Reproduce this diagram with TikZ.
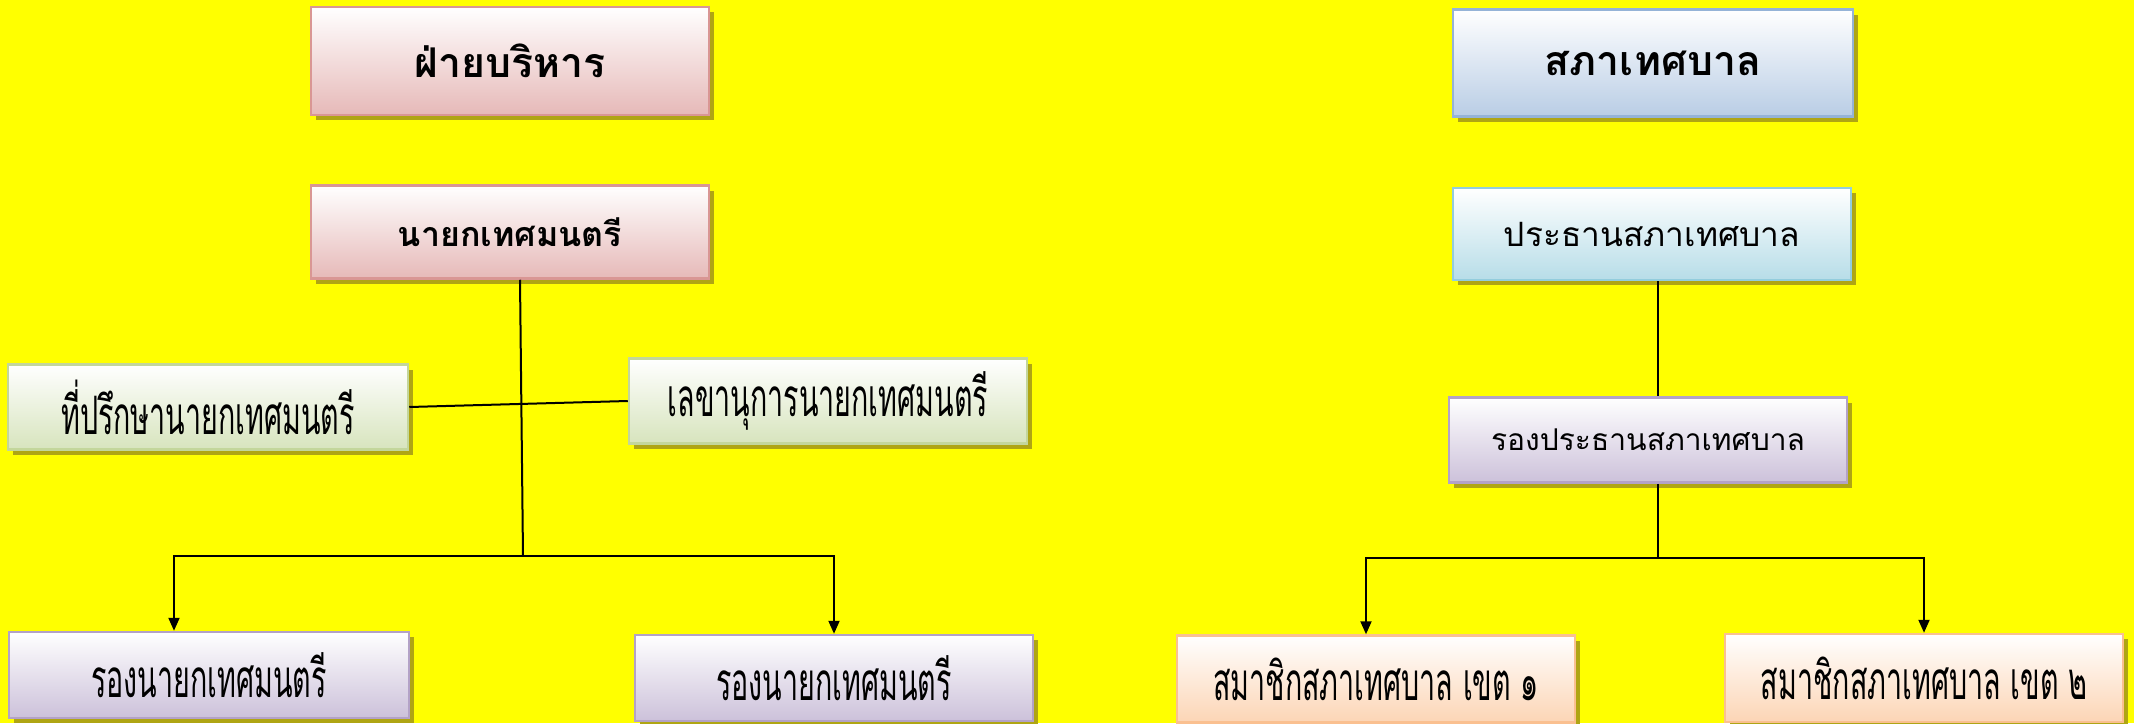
\documentclass[tikz,border=0pt]{standalone}
\usepackage{fontspec}
\usetikzlibrary{arrows.meta,shadows}
\newfontfamily\thai[Script=Thai]{Loma}
\newfontfamily\thaic[Script=Thai,FakeStretch=0.54]{Loma}
\definecolor{bgyellow}{RGB}{255,255,0}
\definecolor{shadowc}{RGB}{175,165,20}
\definecolor{pinkB}{RGB}{230,185,184}\definecolor{pinkD}{RGB}{217,150,148}
\definecolor{greenB}{RGB}{215,228,189}\definecolor{greenD}{RGB}{195,214,155}
\definecolor{lavB}{RGB}{204,193,218}\definecolor{lavD}{RGB}{179,162,199}
\definecolor{blueB}{RGB}{185,205,229}\definecolor{blueD}{RGB}{149,179,215}
\definecolor{cyanB}{RGB}{183,221,232}\definecolor{cyanD}{RGB}{147,205,221}
\definecolor{peachB}{RGB}{252,213,181}\definecolor{peachD}{RGB}{250,192,144}
\tikzset{
  box/.style={rectangle, line width=2.5pt, inner sep=0pt, minimum width=398pt,
    top color=white, drop shadow={shadow xshift=5pt, shadow yshift=-5pt, fill=shadowc, opacity=1}},
  pinkbox/.style={box, draw=pinkD, bottom color=pinkB},
  greenbox/.style={box, draw=greenD, bottom color=greenB},
  lavbox/.style={box, draw=lavD, bottom color=lavB},
  bluebox/.style={box, draw=blueD, bottom color=blueB},
  cyanbox/.style={box, draw=cyanD, bottom color=cyanB},
  peachbox/.style={box, draw=peachD, bottom color=peachB},
  ttl/.style={font=\thai\bfseries\fontsize{41}{45}\selectfont},
  ttlm/.style={font=\thai\bfseries\fontsize{34}{38}\selectfont},
  reg/.style={font=\thai\fontsize{33.5}{38}\selectfont},
  regs/.style={font=\thai\fontsize{30}{34}\selectfont},
  cond/.style={font=\thaic\fontsize{53}{58}\selectfont},
  conn/.style={line width=2pt},
  arr/.style={line width=2pt, -{Triangle[length=13pt,width=11pt]}}
}
\begin{document}
\begin{tikzpicture}[x=1pt,y=-1pt]
\fill[bgyellow] (0,0) rectangle (2134,723);
\useasboundingbox (0,0) rectangle (2134,723);
% left side
\node[pinkbox, ttl, minimum height=108pt] (t1) at (510,61) {ฝ่ายบริหาร};
\node[pinkbox, ttlm, minimum height=93pt] (mayor) at (510,232) {นายกเทศมนตรี};
\node[greenbox, cond, minimum width=400pt, minimum height=85pt] (adv) at (208,407) {ที่ปรึกษานายกเทศมนตรี};
\node[greenbox, cond, minimum height=85pt] (sec) at (828,401) {เลขานุการนายกเทศมนตรี};
\node[lavbox, cond, minimum width=400pt, minimum height=86pt] (vm1) at (209,675) {รองนายกเทศมนตรี};
\node[lavbox, cond, minimum height=86pt] (vm2) at (834,678) {รองนายกเทศมนตรี};
\coordinate (j1) at (523,556);
\draw[conn] ([xshift=10pt]mayor.south) -- (j1);
\draw[conn] (adv.east) -- (sec.west);
\draw[arr] (j1) -| ([xshift=-35pt]vm1.north);
\draw[arr] (j1) -| (vm2.north);
% right side
\node[bluebox, ttl, minimum width=400pt, minimum height=107pt] (t2) at (1653,63) {สภาเทศบาล};
\node[cyanbox, reg, minimum height=92pt] (pres) at (1652,234) {ประธานสภาเทศบาล};
\node[lavbox, regs, minimum height=85pt] (vp) at (1648,440) {รองประธานสภาเทศบาล};
\node[peachbox, cond, minimum height=87pt] (m1) at (1376,679) {สมาชิกสภาเทศบาล เขต ๑};
\node[peachbox, cond, minimum height=88pt] (m2) at (1924,678) {สมาชิกสภาเทศบาล เขต ๒};
\coordinate (j2) at (1658,558);
\draw[conn] ([xshift=6pt]pres.south) -- ([xshift=10pt]vp.north);
\draw[conn] ([xshift=10pt]vp.south) -- (j2);
\draw[arr] (j2) -| ([xshift=-10pt]m1.north);
\draw[arr] (j2) -| (m2.north);
\end{tikzpicture}
\end{document}
